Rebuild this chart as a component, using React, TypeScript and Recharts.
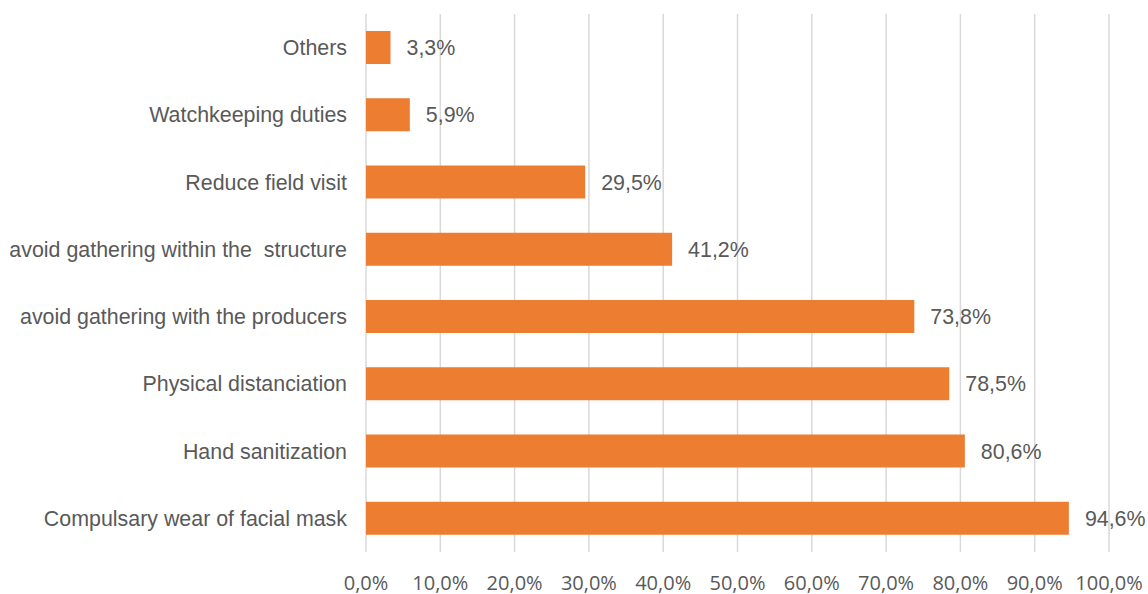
import { Bar, BarChart, CartesianGrid, LabelList, XAxis, YAxis } from "recharts"

const CATEGORIES = [
  "Others",
  "Watchkeeping duties",
  "Reduce field visit",
  "avoid gathering within the  structure",
  "avoid gathering with the producers",
  "Physical distanciation",
  "Hand sanitization",
  "Compulsary wear of facial mask",
]

const SHARES = [3.3, 5.9, 29.5, 41.2, 73.8, 78.5, 80.6, 94.6]

const X_TICKS = [0, 10, 20, 30, 40, 50, 60, 70, 80, 90, 100]

const TEXT = "#595959"
const ORANGE = "#ED7D31"

const fmt = (v: number) => v.toFixed(1).replace(".", ",") + "%"

const data = CATEGORIES.map((name, i) => ({ name, value: SHARES[i] }))

function CategoryTick({ x, y, payload }: any) {
  return (
    <text
      x={x - 19}
      y={y + 0.5}
      textAnchor="end"
      dominantBaseline="central"
      fill={TEXT}
      fontSize={21.4}
      fontFamily="'Liberation Sans', Arial, sans-serif"
      style={{ whiteSpace: "pre" }}
    >
      {payload.value}
    </text>
  )
}

function PercentTick({ x, y, payload }: any) {
  return (
    <text
      x={x}
      y={y + 30}
      textAnchor="middle"
      dominantBaseline="central"
      fill={TEXT}
      fontSize={20}
      fontFamily="'Open Sans', sans-serif"
    >
      {fmt(payload.value)}
    </text>
  )
}

export default function App() {
  return (
    <div style={{ position: "absolute", left: 0, top: 0, background: "#fff" }}>
      <BarChart
        width={1148}
        height={594}
        data={data}
        layout="vertical"
        margin={{ top: 14, right: 39, bottom: 0, left: 0 }}
      >
        <CartesianGrid horizontal={false} stroke="#d9d9d9" strokeWidth={1.5} />
        <XAxis
          type="number"
          domain={[0, 100]}
          ticks={X_TICKS}
          height={42}
          axisLine={false}
          tickLine={false}
          tickSize={0}
          tickMargin={0}
          tick={<PercentTick />}
          interval={0}
        />
        <YAxis
          type="category"
          dataKey="name"
          width={366}
          axisLine={false}
          tickLine={false}
          tickSize={0}
          tickMargin={0}
          tick={<CategoryTick />}
          interval={0}
        />
        <Bar dataKey="value" fill={ORANGE} barSize={33} isAnimationActive={false}>
          <LabelList
            dataKey="value"
            position="right"
            offset={16}
            formatter={(v: any) => fmt(Number(v))}
            fill={TEXT}
            fontSize={21.4}
            fontFamily="'Liberation Sans', Arial, sans-serif"
          />
        </Bar>
      </BarChart>
    </div>
  )
}
